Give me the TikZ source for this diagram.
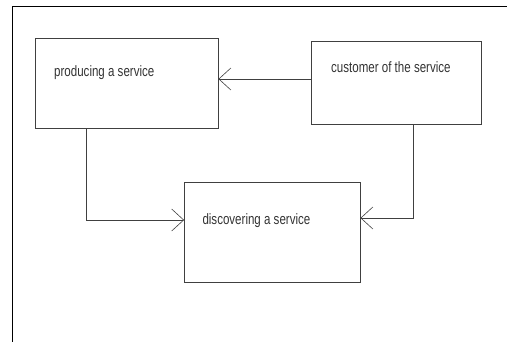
\documentclass[tikz,border=0pt]{standalone}
\usepackage{fontspec}
\newfontfamily\lblfont{Liberation Sans}[FakeStretch=0.77]
\usetikzlibrary{arrows.meta,calc}
\definecolor{linegray}{HTML}{404040}
\definecolor{textgray}{HTML}{333333}
\tikzset{
  box/.style={draw=linegray, line width=0.8pt, rectangle, inner sep=0pt},
  lbl/.style={anchor=base west, inner sep=0pt, text=textgray, font=\lblfont\fontsize{15}{17}\selectfont},
  conn/.style={draw=linegray, line width=0.8pt, -{Straight Barb[length=12pt,width=22pt,line width=0.6pt]}},
  frame/.style={draw=black, line width=0.8pt}
}
\begin{document}
\begin{tikzpicture}[x=1pt,y=-1pt]
\useasboundingbox (0,0) rectangle (507,342);
\coordinate (ftr) at (507,6);
\coordinate (ftl) at (12.5,6);
\coordinate (fbl) at (12.5,342);
\draw[frame] (ftr) -- (ftl) -- (fbl);
\node[box, minimum width=182.5pt, minimum height=90pt] (prod) at (126.75,83) {};
\node[box, minimum width=170pt, minimum height=83.5pt] (cust) at (396,82.75) {};
\node[box, minimum width=175.5pt, minimum height=100pt] (disc) at (272.25,232) {};
\node[lbl] (ptext) at (54,76.7) {producing a service};
\node[lbl] (ctext) at (331,72.3) {customer of the service};
\node[lbl] (dtext) at (202.3,224.7) {discovering a service};
\draw[conn] ([yshift=3.75pt]cust.west) -- ([yshift=3.75pt]cust.west -| prod.east);
\draw[conn] ($(prod.south west)!0.282!(prod.south east)$) |- ([yshift=12pt]disc.west);
\draw[conn] ($(cust.south west)!0.6!(cust.south east)$) |- ([yshift=14pt]disc.east);
\end{tikzpicture}
\end{document}
